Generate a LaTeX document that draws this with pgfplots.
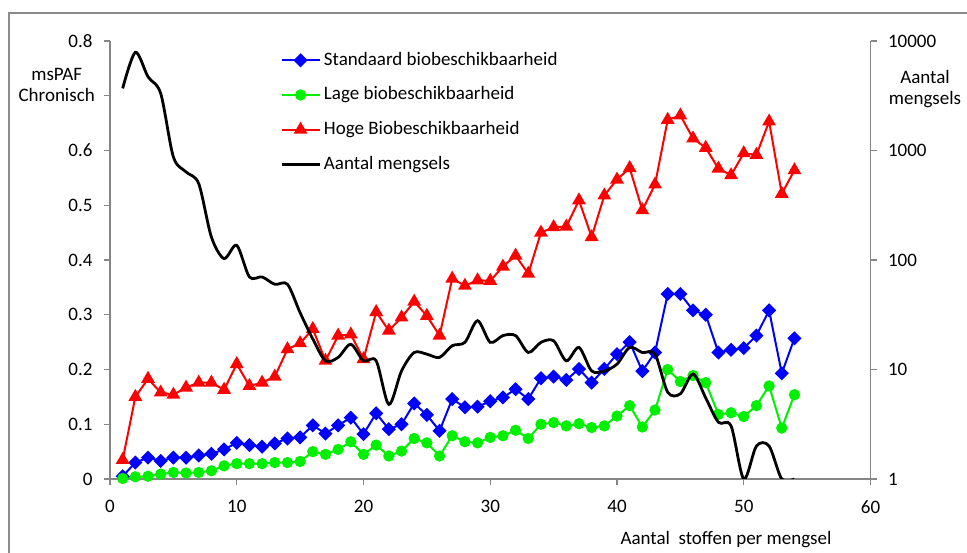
\documentclass[border=0pt]{standalone}
\usepackage{pgfplots}
\pgfplotsset{compat=1.18}
\usepackage{fontspec}
\setmainfont{Carlito}
\definecolor{axisgray}{RGB}{134,134,134}
\definecolor{bordergray}{RGB}{140,140,140}
\definecolor{myblue}{RGB}{0,0,255}
\definecolor{mygreen}{RGB}{0,240,0}
\definecolor{myred}{RGB}{255,0,0}
\newcommand{\chartfont}{\fontsize{19}{22}\selectfont}
\pgfplotsset{
  every axis/.append style={
    scale only axis, width=760.5pt, height=438pt,
    at={(110pt,73pt)}, anchor=south west,
    xmin=0, xmax=60,
    axis line style={draw=axisgray, line width=1.4pt, -},
    tick style={draw=axisgray, line width=1.4pt},
    tick align=outside, major tick length=6pt,
    ticklabel style={font=\chartfont, black, /pgf/number format/assume math mode=true},
  },
  legend image code/.code={\draw[mark repeat=2,mark phase=2,#1] plot coordinates {(0pt,0pt) (19pt,0pt) (38pt,0pt)};}
}
\begin{document}
\begin{tikzpicture}[x=1pt,y=1pt]
\useasboundingbox (0,0) rectangle (967,552);
\clip (0,0) rectangle (967,552);
\draw[bordergray, line width=2pt] (9,-10) -- (9,539) -- (980,539);

\begin{axis}[
  ymin=0, ymax=0.8,
  axis x line*=bottom, axis y line*=left,
  xtick={0,10,20,30,40,50,60},
  ytick={0,0.1,0.2,0.3,0.4,0.5,0.6,0.7,0.8},
  yticklabels={0,0.1,0.2,0.3,0.4,0.5,0.6,,0.8},
  minor tick num=0,
  yticklabel style={xshift=-8pt},
  xticklabel style={yshift=-12pt},
  legend style={at={(0.2235,0.977)}, anchor=north west, draw=none, fill=none,
    inner sep=0pt, row sep=16.7pt,
    nodes={text height=14pt, text depth=4pt, inner sep=0pt, font=\chartfont},
    /tikz/every odd column/.append style={column sep=3pt}},
  legend cell align=left,
]
\addplot[myblue, line width=2pt, mark=square*, mark size=4pt, mark options={rotate=45, solid}] coordinates {
(1,0.005) (2,0.030) (3,0.039) (4,0.033) (5,0.039) (6,0.039) (7,0.043) (8,0.046) (9,0.054) (10,0.066)
(11,0.062) (12,0.059) (13,0.065) (14,0.074) (15,0.076) (16,0.098) (17,0.083) (18,0.098) (19,0.112) (20,0.082)
(21,0.120) (22,0.091) (23,0.100) (24,0.138) (25,0.117) (26,0.088) (27,0.146) (28,0.131) (29,0.132) (30,0.142)
(31,0.149) (32,0.164) (33,0.146) (34,0.184) (35,0.187) (36,0.181) (37,0.201) (38,0.176) (39,0.201) (40,0.228)
(41,0.250) (42,0.197) (43,0.231) (44,0.338) (45,0.338) (46,0.308) (47,0.300) (48,0.231) (49,0.236) (50,0.239)
(51,0.262) (52,0.308) (53,0.193) (54,0.257)};
\addlegendentry{Standaard biobeschikbaarheid}
\addplot[mygreen, line width=2pt, mark=*, mark size=4.6pt] coordinates {
(1,0.001) (2,0.004) (3,0.005) (4,0.009) (5,0.012) (6,0.011) (7,0.012) (8,0.015) (9,0.024) (10,0.028)
(11,0.028) (12,0.028) (13,0.030) (14,0.030) (15,0.032) (16,0.050) (17,0.045) (18,0.054) (19,0.068) (20,0.045)
(21,0.062) (22,0.042) (23,0.051) (24,0.074) (25,0.066) (26,0.042) (27,0.079) (28,0.068) (29,0.066) (30,0.076)
(31,0.079) (32,0.089) (33,0.074) (34,0.100) (35,0.103) (36,0.097) (37,0.101) (38,0.094) (39,0.097) (40,0.115)
(41,0.134) (42,0.095) (43,0.126) (44,0.200) (45,0.178) (46,0.189) (47,0.176) (48,0.118) (49,0.121) (50,0.114)
(51,0.134) (52,0.170) (53,0.093) (54,0.154)};
\addlegendentry{Lage biobeschikbaarheid}
\addplot[myred, line width=2pt, mark=triangle*, mark size=6pt] coordinates {
(1,0.035) (2,0.150) (3,0.183) (4,0.158) (5,0.154) (6,0.167) (7,0.176) (8,0.176) (9,0.163) (10,0.210)
(11,0.170) (12,0.176) (13,0.187) (14,0.237) (15,0.248) (16,0.274) (17,0.216) (18,0.262) (19,0.264) (20,0.219)
(21,0.305) (22,0.271) (23,0.295) (24,0.324) (25,0.298) (26,0.262) (27,0.366) (28,0.353) (29,0.363) (30,0.362)
(31,0.388) (32,0.408) (33,0.375) (34,0.450) (35,0.460) (36,0.461) (37,0.509) (38,0.442) (39,0.518) (40,0.547)
(41,0.568) (42,0.491) (43,0.538) (44,0.656) (45,0.664) (46,0.622) (47,0.605) (48,0.567) (49,0.555) (50,0.595)
(51,0.592) (52,0.653) (53,0.521) (54,0.564)};
\addlegendentry{Hoge Biobeschikbaarheid}
\addlegendimage{black, line width=2.8pt}
\addlegendentry{Aantal mengsels}
\end{axis}

\begin{axis}[
  ymode=log, ymin=1, ymax=10000,
  axis x line=none, axis y line*=right,
  ytick={1,10,100,1000,10000},
  yminorticks=false,
  log ticks with fixed point,
  yticklabel style={/pgf/number format/1000 sep={}, xshift=8pt},
]
\addplot[black, line width=2.8pt, smooth, no marks] coordinates {
(1,3690) (2,7880) (3,4710) (4,3320) (5,873) (6,637) (7,498) (8,162) (9,103) (10,136)
(11,70) (12,70) (13,60) (14,60) (15,33) (16,19) (17,12) (18,12.9) (19,17) (20,12)
(21,12) (22,4.8) (23,9.7) (24,14.3) (25,13.8) (26,12.9) (27,16.5) (28,17.7) (29,27.9) (30,17.7)
(31,20.4) (32,20.4) (33,14.3) (34,17.7) (35,18.3) (36,12) (37,15.9) (38,9.7) (39,9.7) (40,11.2)
(41,15.9) (42,14.3) (43,13.8) (44,6.2) (45,6.0) (46,9.1) (47,5.5) (48,3.3) (49,3.05) (50,1)
(51,2) (52,2) (53,1) (54,1)};
\end{axis}

\node[font=\chartfont] at (56.7,478) {msPAF};
\node[font=\chartfont] at (56.7,457) {Chronisch};
\node[font=\chartfont] at (925,475.3) {Aantal};
\node[font=\chartfont] at (925,452) {mengsels};
\node[font=\chartfont] at (726,12) {Aantal\ \ stoffen per mengsel};
\end{tikzpicture}
\end{document}
